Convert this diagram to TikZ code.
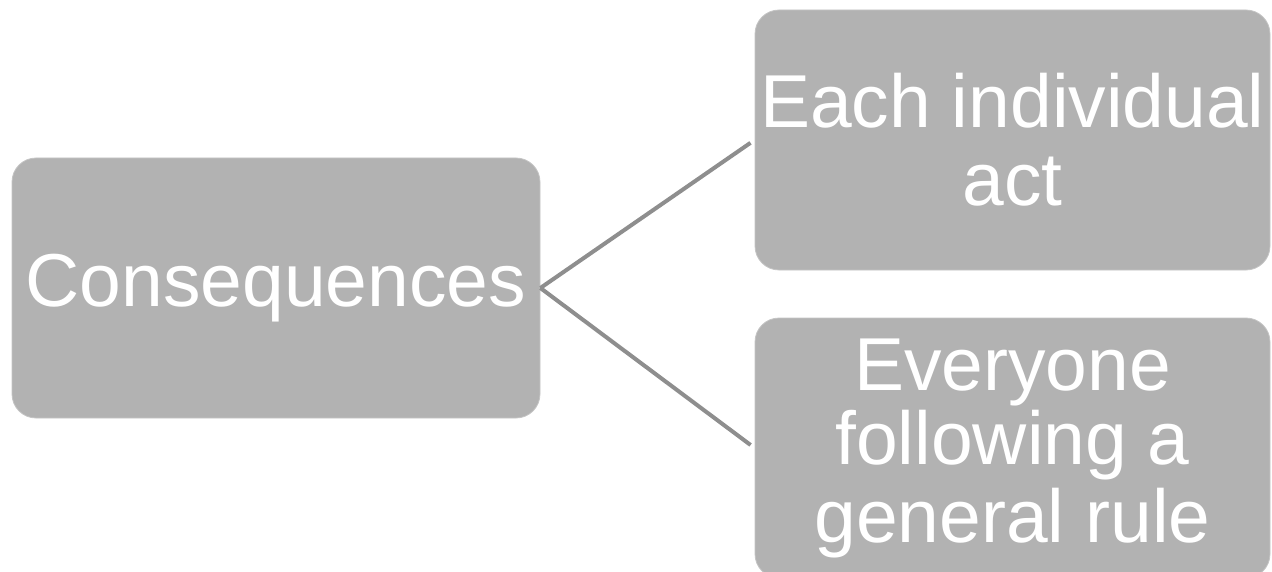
\documentclass[tikz,border=0pt]{standalone}
\usepackage{fontspec}
\setmainfont{Liberation Sans}
\definecolor{boxgray}{HTML}{B2B2B2}
\definecolor{boxedge}{HTML}{C4C4C4}
\definecolor{linegray}{HTML}{8E8E8E}
\begin{document}
\begin{tikzpicture}[x=1pt,y=-1pt,
  box/.style={rectangle, rounded corners=24pt, fill=boxgray, draw=boxedge, line width=0.8pt,
    text=white, align=center, font=\fontsize{75}{78}\selectfont, inner sep=0pt},
  conn/.style={draw=linegray, line width=4pt, shorten >=5pt}]
\useasboundingbox (0,0) rectangle (1272,572);
\clip (0,0) rectangle (1272,572);
\node[box, minimum width=528pt, minimum height=260pt] (cons) at (276,288) {\raisebox{-4pt}{Consequences}};
\node[box, minimum width=515pt, minimum height=260pt] (each) at (1012.5,140) {Each individual\\act};
\node[box, minimum width=515pt, minimum height=260pt] (every) at (1012.5,448) {\raisebox{-4pt}{Everyone}\\following a\\general rule\rule[-8pt]{0pt}{8pt}};
\draw[conn] (cons.east) -- (each.west);
\draw[conn] (cons.east) -- (every.west);
\end{tikzpicture}
\end{document}
